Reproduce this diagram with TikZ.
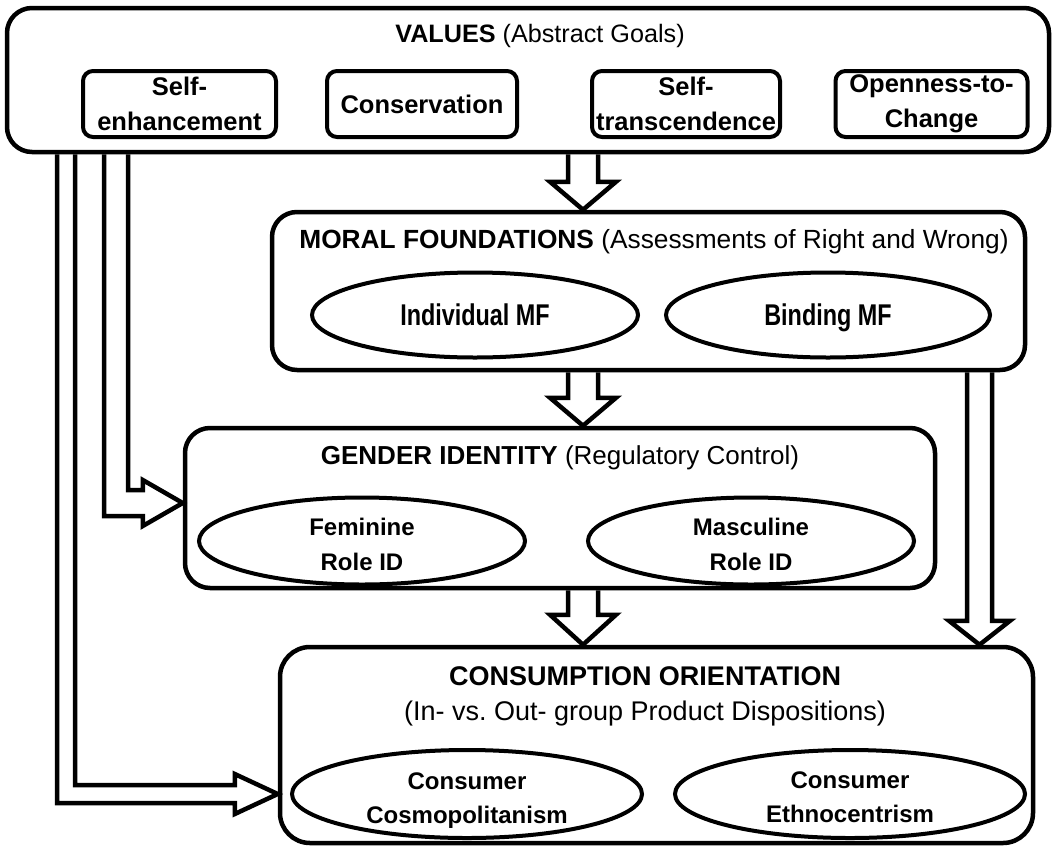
\documentclass[tikz,border=0pt]{standalone}
\usepackage{fontspec}
\setmainfont{Liberation Sans}
\newfontfamily\condfont{Liberation Sans}[FakeStretch=0.78]
\usetikzlibrary{shapes.geometric,calc}
\newcommand\myblockarrow[5]{%
  \draw[arr] ($(#1)+(-#3,0)$) -- ($(#2)+(-#3,-#5)$) -- ($(#2)+(-#4,-#5)$) -- (#2)
    -- ($(#2)+(#4,-#5)$) -- ($(#2)+(#3,-#5)$) -- ($(#1)+(#3,0)$);}
\frenchspacing
\begin{document}
\begin{tikzpicture}[x=1pt,y=-1pt,
  bigbox/.style={draw, line width=4.5pt, rounded corners=25pt, inner sep=0pt},
  subbox/.style={draw, line width=4pt, rounded corners=10pt, minimum height=66pt,
    inner sep=0pt, align=center, font=\fontsize{25.5}{35}\selectfont\bfseries},
  oval/.style={draw, ellipse, line width=4pt, inner sep=0pt},
  ovaltext/.style={inner sep=0pt, align=center, text depth=0pt,
    font=\fontsize{24}{35}\selectfont\bfseries},
  mfoval/.style={oval, text depth=0pt, font=\condfont\fontsize{30}{36}\selectfont\bfseries},
  title/.style={inner sep=0pt, anchor=base},
  arr/.style={line width=4.5pt, line join=miter},
]
\fill[white] (0,0) rectangle (1059,846);
\useasboundingbox (0,0) rectangle (1059,846);

% VALUES
\node[bigbox, minimum width=1042pt, minimum height=144pt] (values) at (528,80) {};
\node[title, font=\fontsize{25.2}{34}\selectfont] (vtitle) at (540,42) {\textbf{VALUES} (Abstract Goals)};
\node[subbox, minimum width=193pt] (se) at (179.5,104) {Self-\\enhancement};
\node[subbox, minimum width=190pt] (co) at (422,104) {Conservation};
\node[subbox, minimum width=188pt] (st) at (686,104) {Self-\\transcendence};
\node[subbox, minimum width=192pt] (op) at (931.5,104) {Openness-to-\\Change};

% MORAL FOUNDATIONS
\node[bigbox, minimum width=753pt, minimum height=158pt] (moral) at (648.5,291) {};
\node[title, font=\fontsize{26.3}{34}\selectfont] (mtitle) at (654,248) {\textbf{MORAL FOUNDATIONS} (Assessments of Right and Wrong)};
\node[mfoval, minimum width=326pt, minimum height=85pt] (ind) at (475,315) {Individual MF};
\node[mfoval, minimum width=324pt, minimum height=85pt] (bind) at (828,315) {Binding MF};

% GENDER IDENTITY
\node[bigbox, minimum width=750pt, minimum height=160pt] (gender) at (560,508) {};
\node[title, font=\fontsize{26}{34}\selectfont] (gtitle) at (560,464) {\textbf{GENDER IDENTITY} (Regulatory Control)};
\node[oval, minimum width=326pt, minimum height=87pt] (fem) at (362,541) {};
\node[ovaltext] (femt) at ($(fem.center)+(0,3)$) {Feminine\\Role ID};
\node[oval, minimum width=326pt, minimum height=87pt] (masc) at (751,541) {};
\node[ovaltext] (masct) at ($(masc.center)+(0,3)$) {Masculine\\Role ID};

% CONSUMPTION ORIENTATION
\node[bigbox, rounded corners=30pt, minimum width=753pt, minimum height=196pt] (cons) at (656.5,745) {};
\node[title, font=\fontsize{27}{34}\selectfont] (ctitle) at (645,685) {\textbf{CONSUMPTION ORIENTATION}};
\node[title, font=\fontsize{27}{34}\selectfont] (csub) at (645,720) {(In- vs. Out- group Product Dispositions)};
\node[oval, minimum width=350pt, minimum height=88pt] (cosmo) at (467,794) {};
\node[ovaltext, font=\fontsize{24}{34}\selectfont\bfseries] (cosmot) at ($(cosmo.center)+(0,4)$) {Consumer\\Cosmopolitanism};
\node[oval, minimum width=350pt, minimum height=88pt] (ethno) at (850,794) {};
\node[ovaltext, font=\fontsize{24}{34}\selectfont\bfseries] (ethnot) at ($(ethno.center)+(0,3)$) {Consumer\\Ethnocentrism};

% block arrows
\coordinate (ax) at (583,0);
\coordinate (a1s) at (ax |- values.south);
\coordinate (a1e) at (ax |- moral.north);
\coordinate (a2s) at (ax |- moral.south);
\coordinate (a2e) at (ax |- gender.north);
\coordinate (a3s) at (ax |- gender.south);
\coordinate (a3e) at (ax |- cons.north);
\myblockarrow{a1s}{a1e}{15}{33}{28}
\myblockarrow{a2s}{a2e}{15}{33}{28}
\myblockarrow{a3s}{a3e}{15}{33}{30}

% right double-line arrow
\coordinate (rx) at (979.5,0);
\coordinate (r1s) at (rx |- moral.south);
\coordinate (r1e) at (rx |- cons.north);
\myblockarrow{r1s}{r1e}{12.5}{30.5}{24}

% left double-line arrows
\coordinate (l0) at (57,0);
\coordinate (l1) at (75,0);
\coordinate (l2) at (104,0);
\coordinate (l3) at (128,0);
\coordinate (gtip) at ($(gender.west)+(0,-5)$);
\coordinate (ctip) at (cons.west |- cosmo.west);
\draw[arr] (values.south -| l3) |- ($(gtip)+(-40,-13)$) -- ($(gtip)+(-40,-23)$) -- (gtip)
  -- ($(gtip)+(-40,23)$) -- ($(gtip)+(-40,13)$) -| (values.south -| l2);
\draw[arr] (values.south -| l1) |- ($(ctip)+(-43,-9)$) -- ($(ctip)+(-43,-20)$) -- (ctip)
  -- ($(ctip)+(-43,20)$) -- ($(ctip)+(-43,9)$) -| (values.south -| l0);
\end{tikzpicture}
\end{document}
